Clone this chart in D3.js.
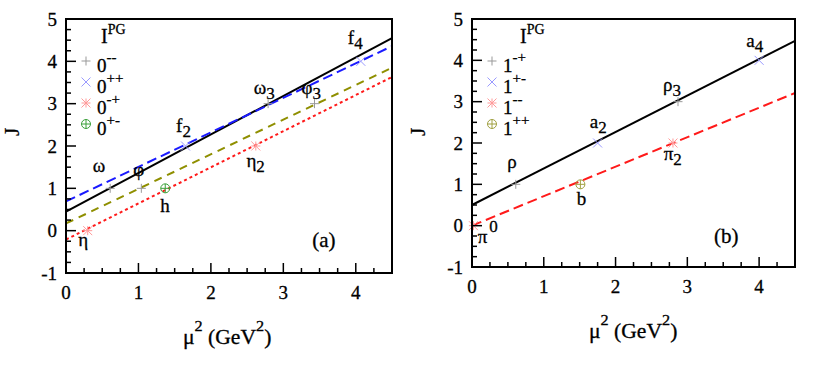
<!DOCTYPE html>
<html>
<head>
<meta charset="utf-8">
<script src="https://cdn.jsdelivr.net/npm/d3@7"></script>
<style>
  body { margin: 0; background: #fff; }
</style>
</head>
<body>
<script>
// x range of the fitted trajectories
var lineX = [0, 4.5];

// panel (a): J at x=0 and x=4.5 for each trajectory
var aSolid  = [0.45, 4.55];
var aBlue   = [0.69, 4.36];
var aOlive  = [0.17, 3.85];
var aRed    = [-0.21, 3.63];

// panel (b)
var bSolid  = [0.50, 4.47];
var bRed    = [0.00, 3.21];

// mesons: mu^2 and J
var aMinusMinus = [[0.61, 1], [1.04, 1], [2.79, 3], [3.43, 3]];   // omega, phi, omega3, phi3
var aPlusPlus   = [[1.65, 2], [4.07, 4]];                          // f2, f4
var aMinusPlus  = [[0.30, 0], [2.62, 2]];                          // eta, eta2
var aPlusMinus  = [[1.37, 1]];                                     // h

var bMinusPlus  = [[0.61, 1], [2.87, 3]];                          // rho, rho3
var bPlusMinus  = [[1.75, 2], [4.00, 4]];                          // a2, a4
var bMinusMinus = [[0.02, 0], [2.80, 2]];                          // pi, pi2
var bPlusPlus   = [[1.51, 1]];                                     // b

var legendA = ["--", "++", "-+", "+-"];
var legendB = ["-+", "+-", "--", "++"];

// annotations: [name, subscript, x, J]
var labelsA = [["f", "2", 1.52, 2.32], ["f", "4", 3.89, 4.40], ["\u03c9", "3", 2.59, 3.22],
               ["\u03c6", "3", 3.25, 3.22], ["\u03b7", "2", 2.49, 1.51], ["\u03c9", "", 0.37, 1.39],
               ["\u03c6", "", 0.93, 1.28], ["h", "", 1.30, 0.43], ["\u03b7", "", 0.17, -0.36]];
var labelsB = [["a", "2", 1.64, 2.36], ["\u03c1", "", 0.49, 1.39], ["b", "", 1.46, 0.50],
               ["\u03c0", "", 0.08, -0.42], ["\u03c1", "3", 2.66, 3.27], ["\u03c0", "2", 2.67, 1.58],
               ["a", "4", 3.82, 4.32]];

var xTicks = [0, 1, 2, 3, 4];
var yTicks = [-1, 0, 1, 2, 3, 4, 5];

var svg = d3.select("body").append("svg")
  .attr("width", 830)
  .attr("height", 367)
  .attr("font-family", "Liberation Serif")
  .attr("fill", "#000");

function marker(g, type, color, px, py) {
  var s = 4.5, p = "";
  if (type == "plus") p = "M" + (px - s) + "," + py + "H" + (px + s) + "M" + px + "," + (py - s) + "V" + (py + s);
  if (type == "cross") p = "M" + (px - s) + "," + (py - s) + "L" + (px + s) + "," + (py + s) + "M" + (px - s) + "," + (py + s) + "L" + (px + s) + "," + (py - s);
  if (type == "star") p = "M" + (px - s) + "," + py + "H" + (px + s) + "M" + px + "," + (py - s) + "V" + (py + s) +
                          "M" + (px - s) + "," + (py - s) + "L" + (px + s) + "," + (py + s) + "M" + (px - s) + "," + (py + s) + "L" + (px + s) + "," + (py - s);
  if (type == "oplus") {
    g.append("circle").attr("cx", px).attr("cy", py).attr("r", s)
      .attr("fill", "none").attr("stroke", color).attr("stroke-width", 1);
    p = "M" + (px - s) + "," + py + "H" + (px + s) + "M" + px + "," + (py - s) + "V" + (py + s);
  }
  g.append("path").attr("d", p).attr("fill", "none").attr("stroke", color).attr("stroke-width", 1);
}

// slightly heavier text, like the scanned figure
function txt(g) {
  return g.append("text").attr("stroke", "#000").attr("stroke-width", 0.3);
}

function panel(box, lines, points, labels, legendSup, legendDigit, tag) {
  var x = d3.scaleLinear().domain([0, 4.5]).range([box.left, box.right]);
  var y = d3.scaleLinear().domain([-1, 5]).range([box.bottom, box.top]);
  var g = svg.append("g");

  // trajectories
  var line = d3.line().x(function(d) { return x(d[0]); }).y(function(d) { return y(d[1]); });
  lines.forEach(function(l) {
    g.append("path")
      .datum(lineX.map(function(v, i) { return [v, l.vals[i]]; }))
      .attr("d", line)
      .attr("fill", "none")
      .attr("stroke", l.color)
      .attr("stroke-width", 2)
      .attr("stroke-dasharray", l.dash);
  });

  // mesons
  points.forEach(function(s) {
    s.data.forEach(function(d) { marker(g, s.type, s.color, x(d[0]), y(d[1])); });
  });

  // frame
  g.append("rect")
    .attr("x", box.left).attr("y", box.top)
    .attr("width", box.right - box.left).attr("height", box.bottom - box.top)
    .attr("fill", "none").attr("stroke", "#000").attr("stroke-width", 2);

  // ticks pointing inwards
  var xMinor = d3.range(0, 4.51, 0.25), yMinor = d3.range(-1, 5.01, 0.25);
  g.append("g").selectAll("line").data(xMinor).enter().append("line")
    .attr("x1", function(d) { return x(d); }).attr("x2", function(d) { return x(d); })
    .attr("y1", box.bottom)
    .attr("y2", function(d) { return box.bottom - (Math.abs(d - Math.round(d)) < 1e-6 ? 10 : 5); })
    .attr("stroke", "#000").attr("stroke-width", 1.5);
  g.append("g").selectAll("line").data(yMinor).enter().append("line")
    .attr("y1", function(d) { return y(d); }).attr("y2", function(d) { return y(d); })
    .attr("x1", box.left)
    .attr("x2", function(d) { return box.left + (Math.abs(d - Math.round(d)) < 1e-6 ? 10 : 5); })
    .attr("stroke", "#000").attr("stroke-width", 1.5);

  // tick labels
  g.append("g").selectAll("text").data(xTicks).enter().append("text")
    .attr("x", function(d) { return x(d); })
    .attr("y", box.bottom + 26)
    .attr("text-anchor", "middle")
    .attr("font-size", 19)
    .attr("stroke", "#000").attr("stroke-width", 0.3)
    .text(function(d) { return d; });
  g.append("g").selectAll("text").data(yTicks).enter().append("text")
    .attr("x", box.left - 9)
    .attr("y", function(d) { return y(d) + 6.5; })
    .attr("text-anchor", "end")
    .attr("font-size", 19)
    .attr("stroke", "#000").attr("stroke-width", 0.3)
    .text(function(d) { return d; });

  // axis titles
  txt(g)
    .attr("transform", "translate(" + (box.left - 47) + "," + 132 + ") rotate(-90)")
    .attr("text-anchor", "middle")
    .attr("font-size", 21)
    .text("J");
  var xt = txt(g)
    .attr("transform", "translate(" + (box.left + 117) + "," + (box.bottom + 71) + ") scale(1.08,1)")
    .attr("font-size", 20);
  xt.append("tspan").text("\u03bc");
  xt.append("tspan").attr("dy", -13).attr("font-size", 15).text("2");
  xt.append("tspan").attr("dy", 13).attr("font-size", 20).text(" (GeV");
  xt.append("tspan").attr("dy", -13).attr("font-size", 15).text("2");
  xt.append("tspan").attr("dy", 13).attr("font-size", 20).text(")");

  // meson names
  labels.forEach(function(l) {
    var t = txt(g).attr("x", x(l[2])).attr("y", y(l[3])).attr("font-size", 19);
    t.append("tspan").text(l[0]);
    if (l[1] != "") t.append("tspan").attr("dy", 5).attr("font-size", 17).text(l[1]);
  });

  // legend
  var ip = txt(g).attr("x", box.left + box.ipx).attr("y", box.top + 24).attr("font-size", 20);
  ip.append("tspan").text("I");
  ip.append("tspan").attr("dy", -9).attr("font-size", 14).text("PG");
  points.forEach(function(s, i) {
    var ly = box.top + 42 + i * 21;
    marker(g, s.type, s.color, box.left + 20, ly);
    var t = txt(g).attr("x", box.left + 31).attr("y", ly + 11).attr("font-size", 19);
    t.append("tspan").text(legendDigit);
    t.append("tspan").attr("dy", -10).attr("font-size", 15).text(legendSup[i]);
  });

  // panel tag
  txt(g).attr("x", x(tag.x)).attr("y", y(tag.j)).attr("font-size", 21).text(tag.t);
  return { x: x, y: y, g: g };
}

var pa = panel({ left: 66, right: 392, top: 19, bottom: 273, ipx: 35 },
  [{ vals: aSolid, color: "#000", dash: null },
   { vals: aBlue, color: "#1a1aff", dash: "10,5" },
   { vals: aOlive, color: "#8f8f00", dash: "8,6" },
   { vals: aRed, color: "#ff1a1a", dash: "3,3" }],
  [{ data: aMinusMinus, type: "plus", color: "#999" },
   { data: aPlusPlus, type: "cross", color: "#9a9aff" },
   { data: aMinusPlus, type: "star", color: "#ff9a9a" },
   { data: aPlusMinus, type: "oplus", color: "#3aa03a" }],
  labelsA, legendA, "0", { t: "(a)", x: 3.40, j: -0.38 });

var pb = panel({ left: 472, right: 795, top: 19, bottom: 267, ipx: 48 },
  [{ vals: bSolid, color: "#000", dash: null },
   { vals: bRed, color: "#ff1a1a", dash: "10,5" }],
  [{ data: bMinusPlus, type: "plus", color: "#999" },
   { data: bPlusMinus, type: "cross", color: "#9a9aff" },
   { data: bMinusMinus, type: "star", color: "#ff9a9a" },
   { data: bPlusPlus, type: "oplus", color: "#a0a040" }],
  labelsB, legendB, "1", { t: "(b)", x: 3.37, j: -0.42 });

// the pion's charge sits apart from its symbol
txt(pb.g).attr("x", pb.x(0.24)).attr("y", pb.y(-0.15)).attr("font-size", 17).text("0");
</script>
</body>
</html>
